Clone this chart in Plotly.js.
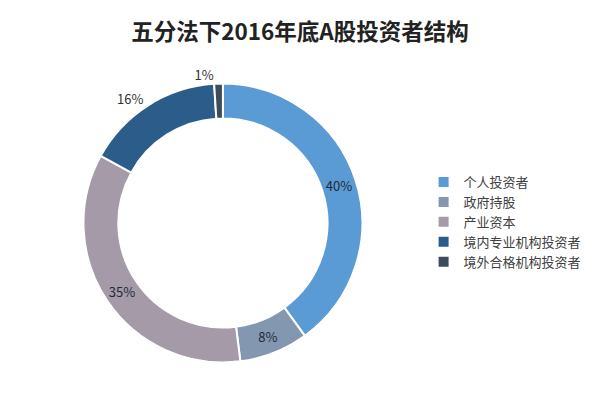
<!DOCTYPE html>
<html>
<head>
<meta charset="utf-8">
<script src="https://cdn.plot.ly/plotly-3.0.1.min.js"></script>
<style>html,body{margin:0;padding:0;background:#fff;}#chart{width:600px;height:398px;}</style>
</head>
<body>
<div id="chart"></div>
<script>
const categories = ['个人投资者', '政府持股', '产业资本', '境内专业机构投资者', '境外合格机构投资者'];
const shares = [40, 8, 35, 16, 1];
const sliceColors = ['#5b9bd5', '#8497b0', '#a59aa8', '#2c5d8a', '#3e4b5e'];
const labelPositions = ['inside', 'inside', 'inside', 'outside', 'outside'];

const trace = {
  type: 'pie',
  labels: categories,
  values: shares,
  sort: false,
  direction: 'clockwise',
  rotation: 0,
  hole: 0.75,
  marker: {colors: sliceColors, line: {color: '#ffffff', width: 2}},
  texttemplate: '%{value}%',
  textposition: labelPositions,
  insidetextorientation: 'horizontal',
  textfont: {family: 'Noto Sans CJK SC, sans-serif', size: 13, color: '#1f2a3a'},
  outsidetextfont: {family: 'Noto Sans CJK SC, sans-serif', size: 13, color: '#333333'},
  domain: {x: [0.135, 0.608], y: [0.0894, 0.790]},
  hoverinfo: 'none'
};

const layout = {
  width: 600,
  height: 398,
  margin: {l: 0, r: 0, t: 0, b: 0},
  paper_bgcolor: '#ffffff',
  title: {
    text: '<b>五分法下2016年底A股投资者结构</b>',
    font: {family: 'Noto Sans CJK SC, sans-serif', size: 22.5, color: '#222222'},
    x: 0.5, xanchor: 'center', y: 0.92, yanchor: 'middle'
  },
  showlegend: true,
  legend: {
    x: 0.706, xanchor: 'left', y: 0.442, yanchor: 'middle',
    font: {family: 'Noto Sans CJK SC, sans-serif', size: 13, color: '#404040'},
    traceorder: 'normal'
  }
};

Plotly.newPlot('chart', [trace], layout, {displayModeBar: false, staticPlot: true});
</script>
</body>
</html>
